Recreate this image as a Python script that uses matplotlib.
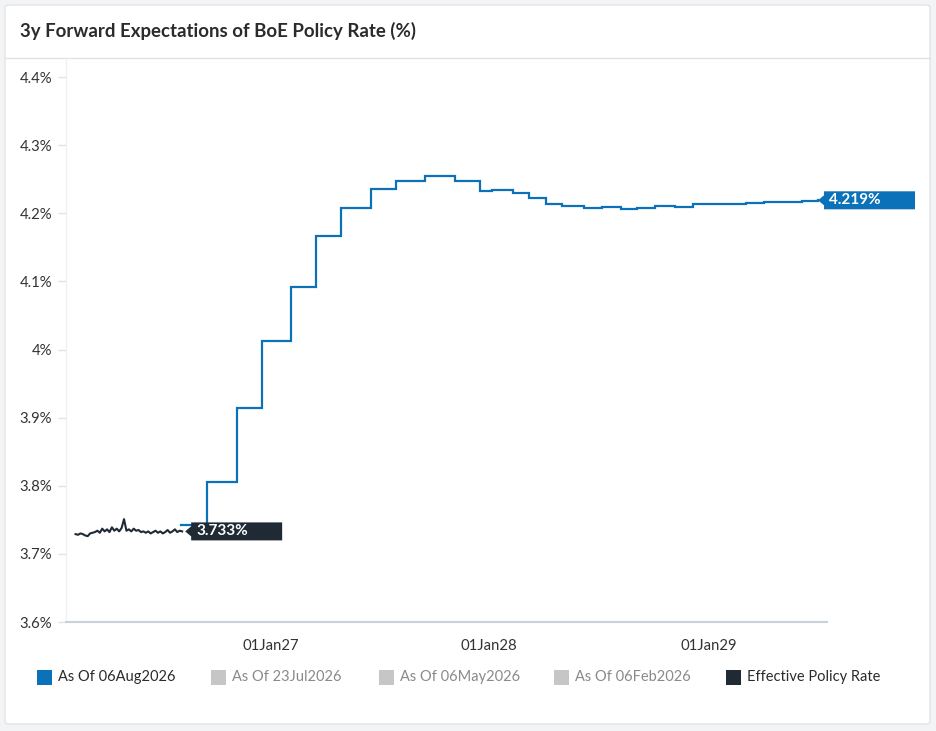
import matplotlib
matplotlib.use('Agg')
import matplotlib.pyplot as plt
import matplotlib.dates as mdates
import matplotlib.transforms as mtransforms
from matplotlib.patches import Polygon, Rectangle, FancyBboxPatch
from matplotlib.lines import Line2D
import pandas as pd

plt.rcParams['font.family'] = ['Lato', 'DejaVu Sans']

# ---------------- data ----------------
title = "3y Forward Expectations of BoE Policy Rate (%)"

fwd_dates = ['2026-08-04', '2026-09-17', '2026-11-05', '2026-12-17', '2027-02-04',
             '2027-03-18', '2027-04-29', '2027-06-17', '2027-07-29', '2027-09-16',
             '2027-11-04', '2027-12-16', '2028-01-05', '2028-02-09', '2028-03-08',
             '2028-04-04', '2028-05-01', '2028-06-07', '2028-07-07', '2028-08-08',
             '2028-09-03', '2028-10-03', '2028-11-06', '2028-12-06', '2029-01-02',
             '2029-03-05', '2029-04-04', '2029-06-07', '2029-07-03']
fwd_values = [3.742, 3.805, 3.914, 4.013, 4.092, 4.166, 4.208, 4.236, 4.247, 4.254,
              4.247, 4.233, 4.234, 4.229, 4.222, 4.214, 4.211, 4.208, 4.209, 4.206,
              4.207, 4.210, 4.209, 4.213, 4.214, 4.215, 4.217, 4.218, 4.219]

eff_start = '2026-02-09'
eff_end = '2026-08-06'
eff_values = [3.729, 3.728, 3.730, 3.729, 3.727, 3.726, 3.730, 3.731, 3.732, 3.734,
              3.731, 3.737, 3.733, 3.736, 3.732, 3.739, 3.734, 3.737, 3.733, 3.738,
              3.751, 3.734, 3.736, 3.733, 3.737, 3.734, 3.735, 3.732, 3.733, 3.731,
              3.733, 3.730, 3.732, 3.734, 3.731, 3.733, 3.730, 3.732, 3.735, 3.731,
              3.733, 3.736, 3.732, 3.734, 3.733]

y_ticks = [3.6, 3.7, 3.8, 3.9, 4.0, 4.1, 4.2, 4.3, 4.4]
x_ticks = ['2027-01-01', '2028-01-01', '2029-01-01']
x_tick_labels = ['01Jan27', '01Jan28', '01Jan29']

legend_labels = ['As Of 06Aug2026', 'As Of 23Jul2026', 'As Of 06May2026',
                 'As Of 06Feb2026', 'Effective Policy Rate']
legend_active = [True, False, False, False, True]

BLUE = '#0b72b9'
DARK = '#1f2a35'
GREY_SQ = '#c6c6c6'
legend_colors = [BLUE, GREY_SQ, GREY_SQ, GREY_SQ, DARK]

# ---------------- figure ----------------
W, H = 936, 731
fig = plt.figure(figsize=(W / 100, H / 100), dpi=100)
fig.patch.set_facecolor('#f3f4f6')

def fx(px):
    return px / W

def fy(py):
    return 1 - py / H

card = FancyBboxPatch((fx(5), fy(724)), fx(925), 719 / H,
                      boxstyle='round,pad=0,rounding_size=0.004',
                      transform=fig.transFigure, fc='white', ec='#e2e4e8', lw=1,
                      zorder=-10)
fig.add_artist(card)
fig.add_artist(Line2D([fx(5), fx(930)], [fy(58), fy(58)], transform=fig.transFigure,
                      color='#e3e3e3', lw=1, zorder=-9))

fig.text(fx(20), fy(31), title, fontsize=13.4, fontweight='bold', color='#2b2b2b',
         ha='left', va='center')

ax = fig.add_axes([fx(66), fy(622), fx(827) - fx(66), (622 - 60) / H])
ax.set_facecolor('none')
ax.set_zorder(1)

fd = pd.to_datetime(fwd_dates)
ax.step(fd, fwd_values, where='post', color=BLUE, lw=1.6, solid_joinstyle='miter', zorder=3)

ed = pd.date_range(eff_start, eff_end, periods=len(eff_values))
ax.plot(ed, eff_values, color=DARK, lw=1.5, zorder=4)

ax.set_ylim(3.6, 4.4 + 17 / 681.25)
ax.set_xlim(mdates.date2num(pd.Timestamp('2026-01-24')),
            mdates.date2num(pd.Timestamp('2029-07-18')))

ax.set_yticks(y_ticks)
ax.set_yticklabels([f"{v:g}%" for v in y_ticks])
ax.set_xticks(pd.to_datetime(x_ticks))
ax.set_xticklabels(x_tick_labels)

ax.tick_params(axis='y', length=6, width=1, color='#e2e2e2', labelsize=10.7,
               labelcolor='#333333', pad=4)
ax.tick_params(axis='x', length=0, labelsize=10.7, labelcolor='#333333', pad=12)

for s in ['top', 'right']:
    ax.spines[s].set_visible(False)
ax.spines['left'].set_color('#f0f0f0')
ax.spines['left'].set_linewidth(1)
ax.spines['bottom'].set_color('#c8d0da')
ax.spines['bottom'].set_linewidth(1.5)

# ---------------- value tags ----------------
def value_tag(xdate, yval, text, color, gap_px, width_px):
    base = mtransforms.ScaledTranslation(mdates.date2num(pd.Timestamp(xdate)), yval,
                                         ax.transData)
    tr = mtransforms.IdentityTransform() + base
    g = gap_px
    a = 6
    h = 9
    pts = [(g, 0), (g + a, 5), (g + a, h), (g + a + width_px, h),
           (g + a + width_px, -h), (g + a, -h), (g + a, -5)]
    poly = Polygon(pts, closed=True, transform=tr, facecolor=color, edgecolor='none',
                   zorder=6)
    fig.add_artist(poly)
    fig.text(g + a + 5, 0, text, transform=tr, color='white', fontsize=11,
             fontweight='bold', ha='left', va='center', zorder=7)

value_tag(fwd_dates[-1], fwd_values[-1], f"{fwd_values[-1]:.3f}%", BLUE, 0, 91)
value_tag(eff_end, eff_values[-1], f"{eff_values[-1]:.3f}%", DARK, 3, 91)

# ---------------- legend ----------------
leg_x = [37, 211, 379, 554, 726]
leg_y = 677
for x0, lab, col, act in zip(leg_x, legend_labels, legend_colors, legend_active):
    fig.add_artist(Rectangle((fx(x0), fy(leg_y + 7.5)), fx(15), 15 / H,
                             transform=fig.transFigure, fc=col, ec='none'))
    fig.text(fx(x0 + 21), fy(leg_y), lab, fontsize=10.5,
             color='#2b2b2b' if act else '#8a8a8a', ha='left', va='center')

fig.savefig('out.png', dpi=100, facecolor=fig.get_facecolor())
